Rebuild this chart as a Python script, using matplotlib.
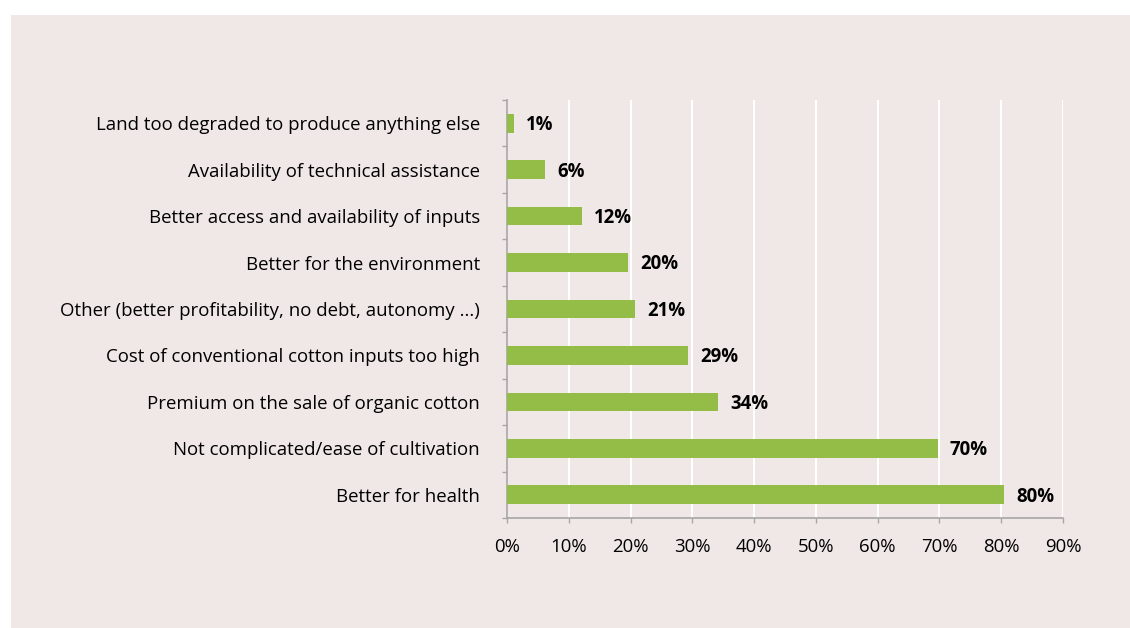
import matplotlib
matplotlib.use("Agg")
import matplotlib.pyplot as plt
from matplotlib.patches import Rectangle

plt.rcParams["font.family"] = ["Open Sans", "DejaVu Sans"]

# Data (top to bottom as shown)
categories = [
    "Land too degraded to produce anything else",
    "Availability of technical assistance",
    "Better access and availability of inputs",
    "Better for the environment",
    "Other (better profitability, no debt, autonomy ...)",
    "Cost of conventional cotton inputs too high",
    "Premium on the sale of organic cotton",
    "Not complicated/ease of cultivation",
    "Better for health",
]
values = [1.1, 6.1, 12.1, 19.6, 20.7, 29.3, 34.1, 69.7, 80.5]
value_labels = ["1%", "6%", "12%", "20%", "21%", "29%", "34%", "70%", "80%"]
xticks = list(range(0, 100, 10))
xtick_labels = [f"{t}%" for t in xticks]

bg = "#F0E8E6"
bar_color = "#93BD47"
axis_gray = "#A6A6A6"
fs = 13.4

fig = plt.figure(figsize=(11.30, 6.28), dpi=100)
fig.patch.set_facecolor("white")
panel = Rectangle((11 / 1130, 0), 1 - 11 / 1130, 1 - 15 / 628,
                  transform=fig.transFigure, facecolor=bg,
                  edgecolor="none", zorder=-10)
fig.add_artist(panel)

ax = fig.add_axes([507 / 1130, 1 - 518 / 628, (1063 - 507) / 1130, (518 - 100) / 628])
ax.set_facecolor(bg)

n = len(categories)
ypos = list(range(n))
ax.barh(ypos, values, height=0.4, color=bar_color, zorder=3)
for y, v, lab in zip(ypos, values, value_labels):
    ax.text(v + 2.0, y + 0.04, lab, va="center", ha="left", fontsize=fs,
            fontweight="bold", color="black", zorder=4)

ax.set_xlim(0, 90)
ax.set_ylim(n - 0.5, -0.5)
ax.set_xticks(xticks)
ax.set_xticklabels(xtick_labels, fontsize=fs)
ax.xaxis.grid(True, color="white", linewidth=1.5, zorder=1)
ax.set_axisbelow(True)

# category labels at bar centres, ticks at category boundaries
ax.set_yticks(ypos)
ax.set_yticklabels(categories, fontsize=fs)
ax.tick_params(axis="y", which="major", length=0, pad=19.4)
ax.set_yticks([i - 0.5 for i in range(n + 1)], minor=True)
ax.tick_params(axis="y", which="minor", length=3.6, color=axis_gray, width=1)
ax.tick_params(axis="x", length=3.6, color=axis_gray, width=1, pad=11)

for side in ("top", "right"):
    ax.spines[side].set_visible(False)
for side in ("left", "bottom"):
    ax.spines[side].set_color(axis_gray)
    ax.spines[side].set_linewidth(1.2)

fig.savefig("out.png", dpi=100, facecolor=fig.get_facecolor())
